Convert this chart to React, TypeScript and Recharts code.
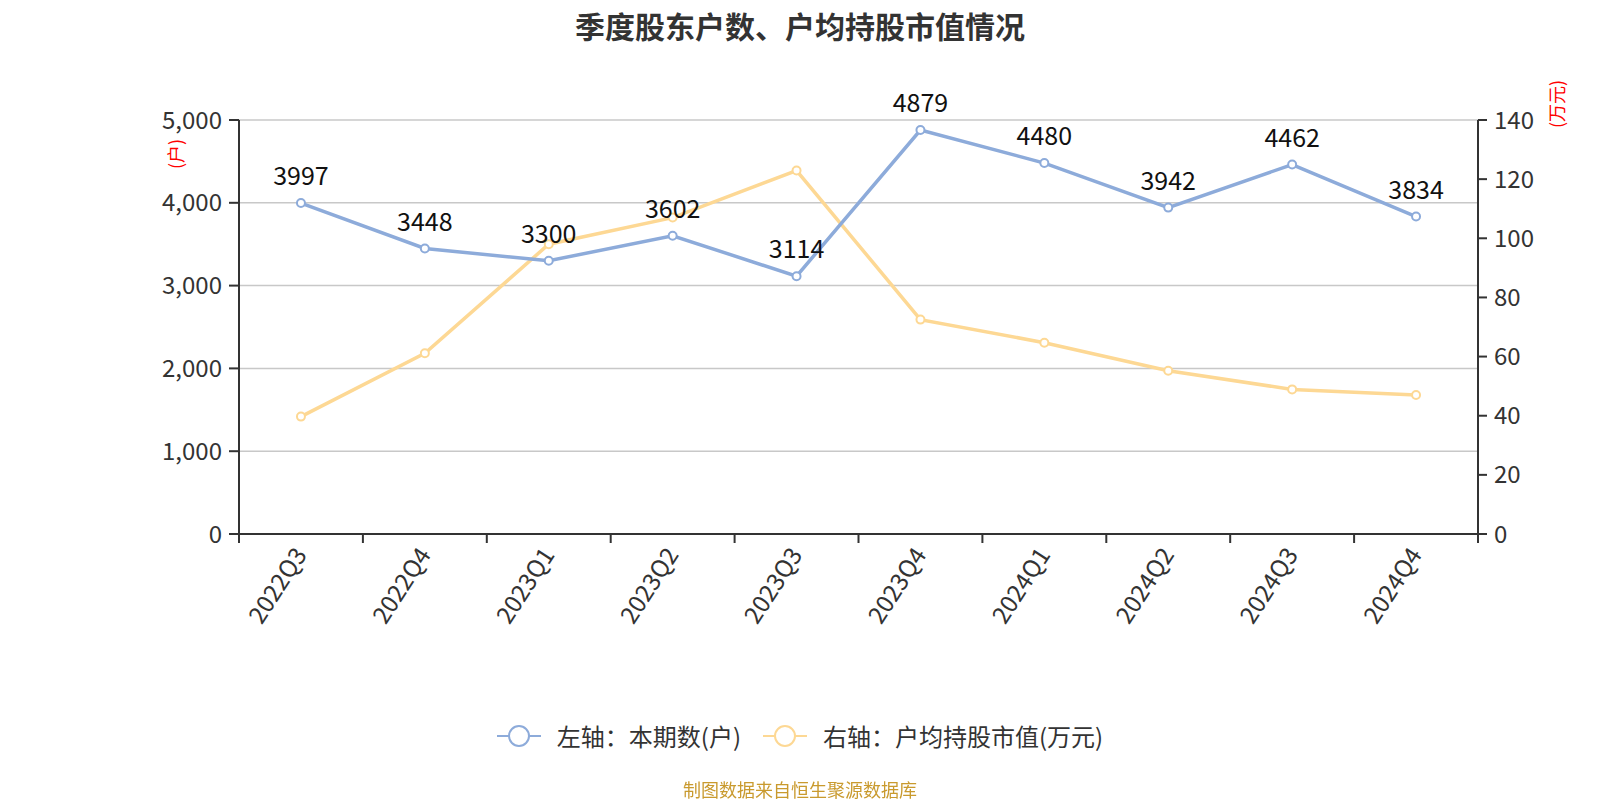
import { LineChart, Line, XAxis, YAxis, CartesianGrid, LabelList } from 'recharts';

// 季度
const quarters = ['2022Q3', '2022Q4', '2023Q1', '2023Q2', '2023Q3', '2023Q4', '2024Q1', '2024Q2', '2024Q3', '2024Q4'];
// 左轴：本期数(户)
const holders = [3997, 3448, 3300, 3602, 3114, 4879, 4480, 3942, 4462, 3834];
// 右轴：户均持股市值(万元)
const avgValue = [39.7, 61.1, 98.0, 107.0, 122.9, 72.5, 64.7, 55.2, 48.9, 47.0];

const leftTicks = [0, 1000, 2000, 3000, 4000, 5000];
const rightTicks = [0, 20, 40, 60, 80, 100, 120, 140];

const data = quarters.map((q, i) => ({ q, holders: holders[i], avgValue: avgValue[i] }));

const BLUE = '#8DABDA';
const YELLOW = '#FDD894';
const FONT = '"Noto Sans CJK SC", "Noto Sans", sans-serif';

const PLOT_LEFT = 239;
const PLOT_RIGHT = 1478;
const BAND = (PLOT_RIGHT - PLOT_LEFT) / quarters.length;

function QuarterTick(props: any) {
  const { x, y, payload, index } = props;
  const last = index === quarters.length - 1;
  const tx = x - 2;
  const ty = y + 15;
  return (
    <g>
      <line x1={x - BAND / 2} y1={y} x2={x - BAND / 2} y2={y + 9} stroke="#333" strokeWidth={2} />
      {last && <line x1={x + BAND / 2} y1={y} x2={x + BAND / 2} y2={y + 9} stroke="#333" strokeWidth={2} />}
      <text
        x={tx}
        y={ty}
        transform={`rotate(-57, ${tx}, ${ty})`}
        textAnchor="end"
        dominantBaseline="central"
        fontSize={24}
        fill="#333"
        fontFamily={FONT}
      >
        {payload.value}
      </text>
    </g>
  );
}

function LegendIcon({ color }: { color: string }) {
  return (
    <svg width={44} height={24}>
      <line x1={0} y1={12} x2={44} y2={12} stroke={color} strokeWidth={2} />
      <circle cx={22} cy={12} r={10} fill="#fff" stroke={color} strokeWidth={2} />
    </svg>
  );
}

export default function App() {
  return (
    <div style={{ position: 'fixed', left: 0, top: 0, width: 1600, height: 800, background: '#fff', fontFamily: FONT }}>
      <div style={{ position: 'absolute', top: 3, width: 1600, textAlign: 'center', fontSize: 30, fontWeight: 700, color: '#333' }}>
        季度股东户数、户均持股市值情况
      </div>

      <LineChart width={1600} height={800} data={data} margin={{ top: 120, right: 42, bottom: 166, left: 159 }}>
        <CartesianGrid yAxisId="left" vertical={false} stroke="#c8c8c8" strokeWidth={1.5} />
        <XAxis
          dataKey="q"
          scale="band"
          height={100}
          interval={0}
          axisLine={{ stroke: '#333', strokeWidth: 2 }}
          tickLine={false}
          tickSize={0}
          tickMargin={0}
          tick={<QuarterTick />}
        />
        <YAxis
          yAxisId="left"
          width={80}
          domain={[0, 5000]}
          ticks={leftTicks}
          tickFormatter={(v) => Number(v).toLocaleString('en-US')}
          axisLine={{ stroke: '#333', strokeWidth: 2 }}
          tickLine={{ stroke: '#333', strokeWidth: 2 }}
          tickSize={10}
          tickMargin={7}
          tick={{ fontSize: 24, fill: '#333', fontFamily: FONT }}
        />
        <YAxis
          yAxisId="right"
          orientation="right"
          width={80}
          domain={[0, 140]}
          ticks={rightTicks}
          axisLine={{ stroke: '#333', strokeWidth: 2 }}
          tickLine={{ stroke: '#333', strokeWidth: 2 }}
          tickSize={9}
          tickMargin={7}
          tick={{ fontSize: 24, fill: '#333', fontFamily: FONT }}
        />
        <Line
          yAxisId="right"
          dataKey="avgValue"
          stroke={YELLOW}
          strokeWidth={3.5}
          dot={{ r: 4, fill: '#fff', stroke: YELLOW, strokeWidth: 2 }}
          activeDot={false}
          isAnimationActive={false}
        />
        <Line
          yAxisId="left"
          dataKey="holders"
          stroke={BLUE}
          strokeWidth={3.5}
          dot={{ r: 4, fill: '#fff', stroke: BLUE, strokeWidth: 2 }}
          activeDot={false}
          isAnimationActive={false}
        >
          <LabelList dataKey="holders" position="top" offset={18} fontSize={25} fill="#111" fontFamily={FONT} />
        </Line>
      </LineChart>

      {/* 单位 */}
      <div style={{ position: 'absolute', left: 175, top: 154, transform: 'translate(-50%, -50%) rotate(-90deg)', color: '#f00', fontSize: 18, whiteSpace: 'nowrap' }}>
        (户)
      </div>
      <div style={{ position: 'absolute', left: 1556, top: 104, transform: 'translate(-50%, -50%) rotate(-90deg)', color: '#f00', fontSize: 18, whiteSpace: 'nowrap' }}>
        (万元)
      </div>

      {/* 图例 */}
      <div style={{ position: 'absolute', top: 718, width: 1600, display: 'flex', justifyContent: 'center', alignItems: 'center', gap: 22, fontSize: 24, color: '#333' }}>
        <div style={{ display: 'flex', alignItems: 'center', gap: 16 }}>
          <LegendIcon color={BLUE} />
          <span>左轴：本期数(户)</span>
        </div>
        <div style={{ display: 'flex', alignItems: 'center', gap: 16 }}>
          <LegendIcon color={YELLOW} />
          <span>右轴：户均持股市值(万元)</span>
        </div>
      </div>

      <div style={{ position: 'absolute', top: 776, width: 1600, textAlign: 'center', fontSize: 18, color: '#C99A2E' }}>
        制图数据来自恒生聚源数据库
      </div>
    </div>
  );
}
